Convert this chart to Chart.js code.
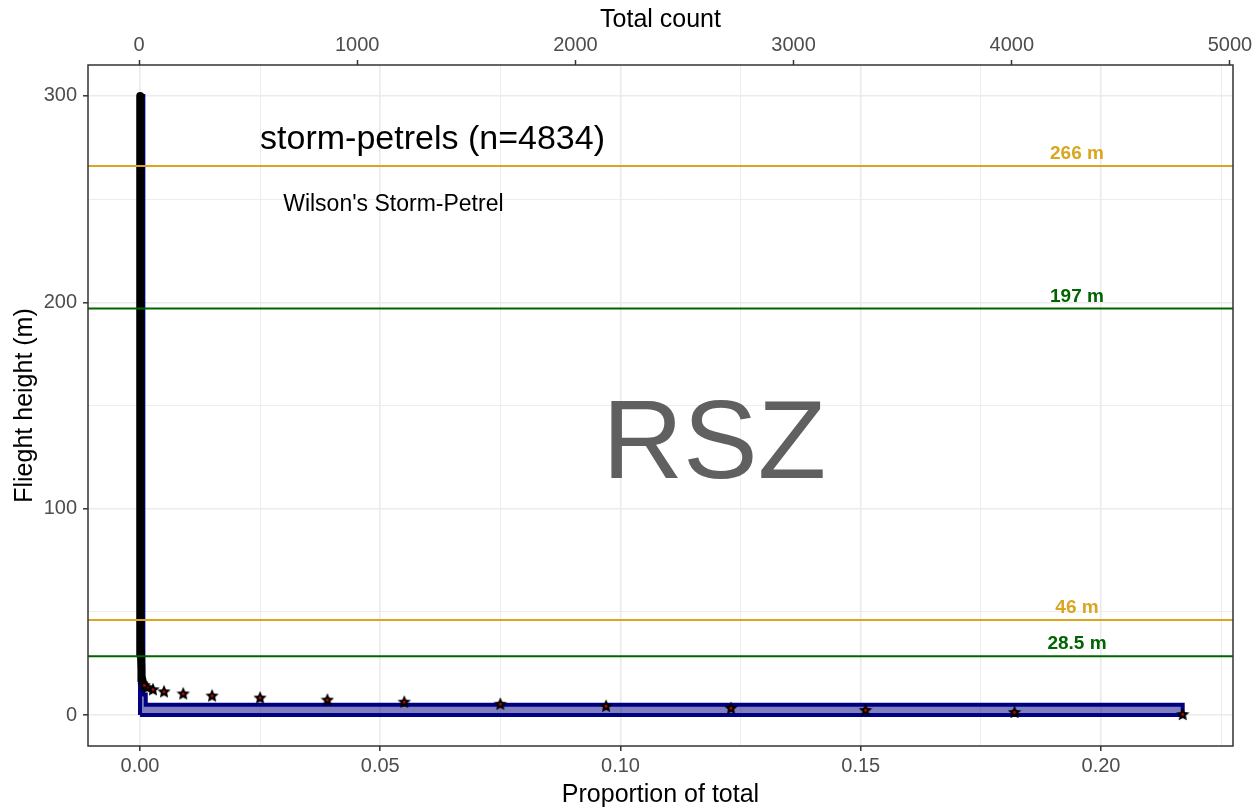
<!DOCTYPE html>
<html>
<head>
<meta charset="utf-8">
<script src="https://cdn.jsdelivr.net/npm/chart.js@4.4.1/dist/chart.umd.min.js"></script>
<style>
  html, body { margin: 0; padding: 0; background: #fff; }
  #wrap { width: 1258px; height: 812px; }
</style>
</head>
<body>
<div id="wrap"><canvas id="mycanvas" width="1258" height="812"></canvas></div>
<script>
// histogram bands (flight height, m) and the proportion of birds in each
var binBottom = [0, 5, 10, 15];
var binTop = [5, 10, 15, 300];
var binProp = [0.217, 0.0012, 0.0006, 0.0007];

// proportion at each 1 m height (the star markers)
var starHeight = [0.5, 1.5, 2.5, 3.5, 4.5, 5.5, 6.5, 7.5, 8.5, 9.5, 10.5, 11.5, 12.5, 13.5, 14.5];
var starProp = [0.217, 0.182, 0.151, 0.123, 0.097, 0.075, 0.055, 0.039, 0.025, 0.015, 0.009, 0.005, 0.0027, 0.0015, 0.0009];

// upper heights, all close to zero (drawn as a dense column of stars)
var colHeight = [14.5, 16, 18, 22, 30, 50, 100, 200, 300];
var colProp = [0.0009, 0.0006, 0.0004, 0.0003, 0.0002, 0.0001, 0.00005, 0.00003, 0.00002];

// top axis tick values
var countTicks = [0, 1000, 2000, 3000, 4000, 5000];

// rotor swept zone reference heights
var refHeight = [266, 197, 46, 28.5];
var refLabel = ['266 m', '197 m', '46 m', '28.5 m'];
var refColor = ['#DAA520', '#006400', '#DAA520', '#006400'];

var groupTitle = 'storm-petrels (n=4834)';
var speciesName = "Wilson's Storm-Petrel";
var zoneName = 'RSZ';

var FONT = '"Liberation Sans", Arial, sans-serif';

// outline of the histogram built from the bins
var histPts = [{ x: 0, y: binBottom[0] }];
for (var i = 0; i < binProp.length; i++) {
  histPts.push({ x: binProp[i], y: binBottom[i] });
  histPts.push({ x: binProp[i], y: binTop[i] });
}
histPts.push({ x: 0, y: binTop[binTop.length - 1] });
histPts.push({ x: 0, y: binBottom[0] });

var starPts = [];
for (var i in starHeight) {
  starPts.push({ x: starProp[i], y: starHeight[i] });
}
var colPts = [];
for (var i in colHeight) {
  colPts.push({ x: colProp[i], y: colHeight[i] });
}

// star marker: black star with a small red centre
var starImg = document.createElement('canvas');
starImg.width = 14; starImg.height = 14;
(function () {
  var c = starImg.getContext('2d');
  c.beginPath();
  for (var k = 0; k < 10; k++) {
    var r = (k % 2 === 0) ? 7 : 3.3;
    var a = -Math.PI / 2 + k * Math.PI / 5;
    var px = 7 + r * Math.cos(a), py = 7.6 + r * Math.sin(a);
    if (k === 0) c.moveTo(px, py); else c.lineTo(px, py);
  }
  c.closePath();
  c.fillStyle = '#000';
  c.fill();
  c.beginPath();
  c.arc(7, 7.4, 1.4, 0, Math.PI * 2);
  c.fillStyle = '#d00000';
  c.fill();
})();

function isMajor(v, step) {
  return Math.abs(v / step - Math.round(v / step)) < 1e-6;
}

var notesPlugin = {
  id: 'notes',
  beforeDatasetsDraw: function (chart) {
    var ctx = chart.ctx, xs = chart.scales.x, ys = chart.scales.y;
    ctx.save();
    ctx.textBaseline = 'middle';
    ctx.fillStyle = '#606060';
    ctx.textAlign = 'center';
    ctx.font = '112px ' + FONT;
    ctx.fillText(zoneName, xs.getPixelForValue(0.1195), ys.getPixelForValue(130));
    ctx.fillStyle = '#000';
    ctx.textAlign = 'left';
    ctx.font = '34px ' + FONT;
    ctx.fillText(groupTitle, xs.getPixelForValue(0.025), ys.getPixelForValue(279));
    ctx.font = '23px ' + FONT;
    ctx.fillText(speciesName, xs.getPixelForValue(0.0298), ys.getPixelForValue(247.5));
    ctx.restore();
  },
  afterDatasetsDraw: function (chart) {
    var ctx = chart.ctx, xs = chart.scales.x, ys = chart.scales.y, a = chart.chartArea;
    ctx.save();
    for (var i = 0; i < refHeight.length; i++) {
      var py = ys.getPixelForValue(refHeight[i]);
      ctx.strokeStyle = refColor[i];
      ctx.lineWidth = 2;
      ctx.beginPath();
      ctx.moveTo(a.left, py);
      ctx.lineTo(a.right, py);
      ctx.stroke();
      ctx.fillStyle = refColor[i];
      ctx.font = 'bold 19px ' + FONT;
      ctx.textAlign = 'center';
      ctx.textBaseline = 'middle';
      ctx.fillText(refLabel[i], xs.getPixelForValue(0.195), py - 12);
    }
    // panel border
    ctx.strokeStyle = '#333333';
    ctx.lineWidth = 1.5;
    ctx.strokeRect(a.left, a.top, a.right - a.left, a.bottom - a.top);
    ctx.restore();
  }
};

var tickFont = { family: FONT, size: 20 };
var titleFont = { family: FONT, size: 25 };

var ctx = document.getElementById('mycanvas');
var chart = new Chart(ctx, {
  type: 'scatter',
  data: {
    datasets: [
      {
        label: 'stars',
        data: starPts,
        pointStyle: starImg,
        pointRadius: 7,
        showLine: false,
        order: 0
      },
      {
        label: 'column',
        data: colPts,
        showLine: true,
        borderColor: '#000',
        borderWidth: 8,
        borderCapStyle: 'round',
        pointRadius: 0,
        tension: 0,
        order: 1
      },
      {
        label: 'histogram',
        data: histPts,
        showLine: true,
        borderColor: '#000080',
        borderWidth: 4,
        borderJoinStyle: 'miter',
        backgroundColor: 'rgba(0, 0, 128, 0.5)',
        fill: 'shape',
        pointRadius: 0,
        tension: 0,
        order: 2
      }
    ]
  },
  options: {
    responsive: false,
    animation: false,
    devicePixelRatio: 1,
    layout: { padding: { left: 0, right: 25, top: 0, bottom: 0 } },
    plugins: { legend: { display: false }, tooltip: { enabled: false } },
    scales: {
      x: {
        type: 'linear',
        position: 'bottom',
        min: -0.01082,
        max: 0.22747,
        afterFit: function (s) { s.height = 66; },
        border: { display: false },
        grid: {
          color: '#ebebeb',
          lineWidth: function (c) { return isMajor(c.tick.value, 0.05) ? 1.6 : 0.9; },
          tickLength: 5,
          tickWidth: 1.5,
          tickColor: function (c) { return isMajor(c.tick.value, 0.05) ? '#333333' : 'rgba(0,0,0,0)'; }
        },
        ticks: {
          stepSize: 0.025,
          includeBounds: false,
          autoSkip: false,
          maxRotation: 0,
          padding: 3,
          color: '#4d4d4d',
          font: tickFont,
          callback: function (v) { return isMajor(v, 0.05) ? v.toFixed(2) : ''; }
        },
        title: { display: true, text: 'Proportion of total', color: '#000', font: titleFont, padding: { top: 0, bottom: 2 } }
      },
      x2: {
        type: 'linear',
        axis: 'x',
        position: 'top',
        min: -234,
        max: 5014,
        afterFit: function (s) { s.height = 65; },
        afterBuildTicks: function (s) {
          s.ticks = countTicks.map(function (v) { return { value: v }; });
        },
        border: { display: false },
        grid: { drawOnChartArea: false, tickLength: 5, tickWidth: 1.5, tickColor: '#333333' },
        ticks: {
          autoSkip: false,
          maxRotation: 0,
          padding: 3,
          color: '#4d4d4d',
          font: tickFont,
          callback: function (v) { return String(Math.round(v)); }
        },
        title: { display: true, text: 'Total count', color: '#000', font: titleFont, padding: { top: 5, bottom: 0 } }
      },
      y: {
        type: 'linear',
        position: 'left',
        min: -15,
        max: 315,
        afterFit: function (s) { s.width = 88; },
        border: { display: false },
        grid: {
          color: '#ebebeb',
          lineWidth: function (c) { return isMajor(c.tick.value, 100) ? 1.6 : 0.9; },
          tickLength: 5,
          tickWidth: 1.5,
          tickColor: function (c) { return isMajor(c.tick.value, 100) ? '#333333' : 'rgba(0,0,0,0)'; }
        },
        ticks: {
          stepSize: 50,
          includeBounds: false,
          autoSkip: false,
          padding: 6,
          color: '#4d4d4d',
          font: tickFont,
          callback: function (v) { return isMajor(v, 100) ? String(v) : ''; }
        },
        title: { display: true, text: 'Flieght height (m)', color: '#000', font: titleFont, padding: { top: 10, bottom: 0 } }
      }
    }
  },
  plugins: [notesPlugin]
});
</script>
</body>
</html>
